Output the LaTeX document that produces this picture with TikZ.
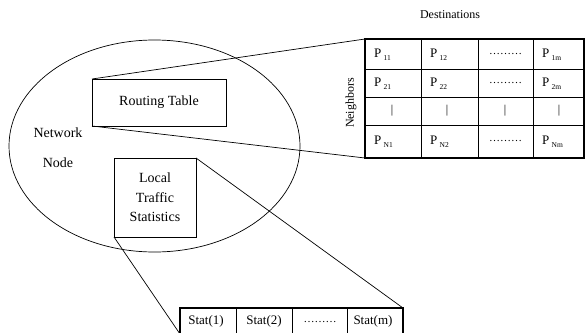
\documentclass[tikz,border=0pt]{standalone}
\usepackage{fontspec}
\setmainfont{Liberation Serif}
\usetikzlibrary{shapes.geometric}
\newcommand{\psub}[1]{P\,\raisebox{-3pt}{\fontsize{7.5}{8}\selectfont #1}}
\begin{document}
\begin{tikzpicture}[x=1pt,y=-1pt,
  thinline/.style={line width=0.7pt},
  gridline/.style={line width=0.8pt},
  thickbox/.style={draw, line width=2.5pt, inner sep=0pt, outer sep=0pt},
  plainbox/.style={draw, line width=0.7pt, inner sep=0pt, outer sep=0pt, align=center},
  ptext/.style={anchor=west, inner sep=0pt, font=\fontsize{13}{15}\selectfont},
  ctext/.style={inner sep=0pt, font=\fontsize{12}{14}\selectfont},
  stext/.style={inner sep=0pt, font=\fontsize{13}{15}\selectfont},
  dtext/.style={inner sep=0pt, font=\fontsize{11}{13}\selectfont}]
\clip (0,0) rectangle (586,332);
% network node ellipse
\node[draw, ellipse, line width=0.7pt, minimum width=291pt, minimum height=212pt, inner sep=0pt] (nn) at (154.5,146) {};
\node[align=center, inner sep=0pt, font=\fontsize{14}{30}\selectfont] (nt) at (58,148) {Network\\Node};
\node[plainbox, minimum width=134pt, minimum height=47pt, font=\fontsize{14}{17}\selectfont] (rt) at (159,102.5) {Routing Table};
\node[plainbox, minimum width=82pt, minimum height=79pt, font=\fontsize{14}{19.5}\selectfont] (lts) at (155,197.5) {Local\\Traffic\\Statistics};
% routing matrix
\foreach \yy in {69,97,125} \draw[gridline] (365,\yy) -- (584,\yy);
\foreach \xx in {421,478,533} \draw[gridline] (\xx,39) -- (\xx,158);
\node[thickbox, minimum width=219pt, minimum height=119pt] (mat) at (474.5,98.5) {};
\node[inner sep=0pt, font=\fontsize{12}{14}\selectfont] (dest) at (450,15) {Destinations};
\node[inner sep=0pt, rotate=90, font=\fontsize{12}{14}\selectfont] (nb) at (351,103) {Neighbors};
\node[ptext] (p11) at (374,55) {\psub{11}};
\node[ptext] (p12) at (430,55) {\psub{12}};
\node[dtext] (d1) at (505.5,54) {………};
\node[ptext] (p1m) at (542,55) {\psub{1m}};
\node[ptext] (p21) at (374,84) {\psub{21}};
\node[ptext] (p22) at (430,84) {\psub{22}};
\node[dtext] (d2) at (505.5,83) {………};
\node[ptext] (p2m) at (542,84) {\psub{2m}};
\node[ctext] (v1) at (392,111) {|};
\node[ctext] (v2) at (447,111) {|};
\node[ctext] (v3) at (505,111) {|};
\node[ctext] (v4) at (559,111) {|};
\node[ptext] (pn1) at (374,142) {\psub{N1}};
\node[ptext] (pn2) at (430,142) {\psub{N2}};
\node[dtext] (dn) at (505.5,141) {………};
\node[ptext] (pnm) at (542,142) {\psub{Nm}};
% stat table
\foreach \xx in {236,292,347} \draw[gridline] (\xx,308) -- (\xx,334);
\node[thickbox, minimum width=223pt, minimum height=26pt] (st) at (291.5,321) {};
\node[stext] (s1) at (206,321) {Stat(1)};
\node[stext] (s2) at (264,321) {Stat(2)};
\node[dtext] (sd) at (320,322) {………};
\node[stext] (sm) at (373,321) {Stat(m)};
% connectors
\draw[thinline] (rt.north west) -- (mat.north west);
\draw[thinline] (rt.south west) -- (mat.south west);
\draw[thinline] (lts.north east) -- (st.north east);
\draw[thinline] (lts.south west) -- (st.south west);
\end{tikzpicture}
\end{document}
